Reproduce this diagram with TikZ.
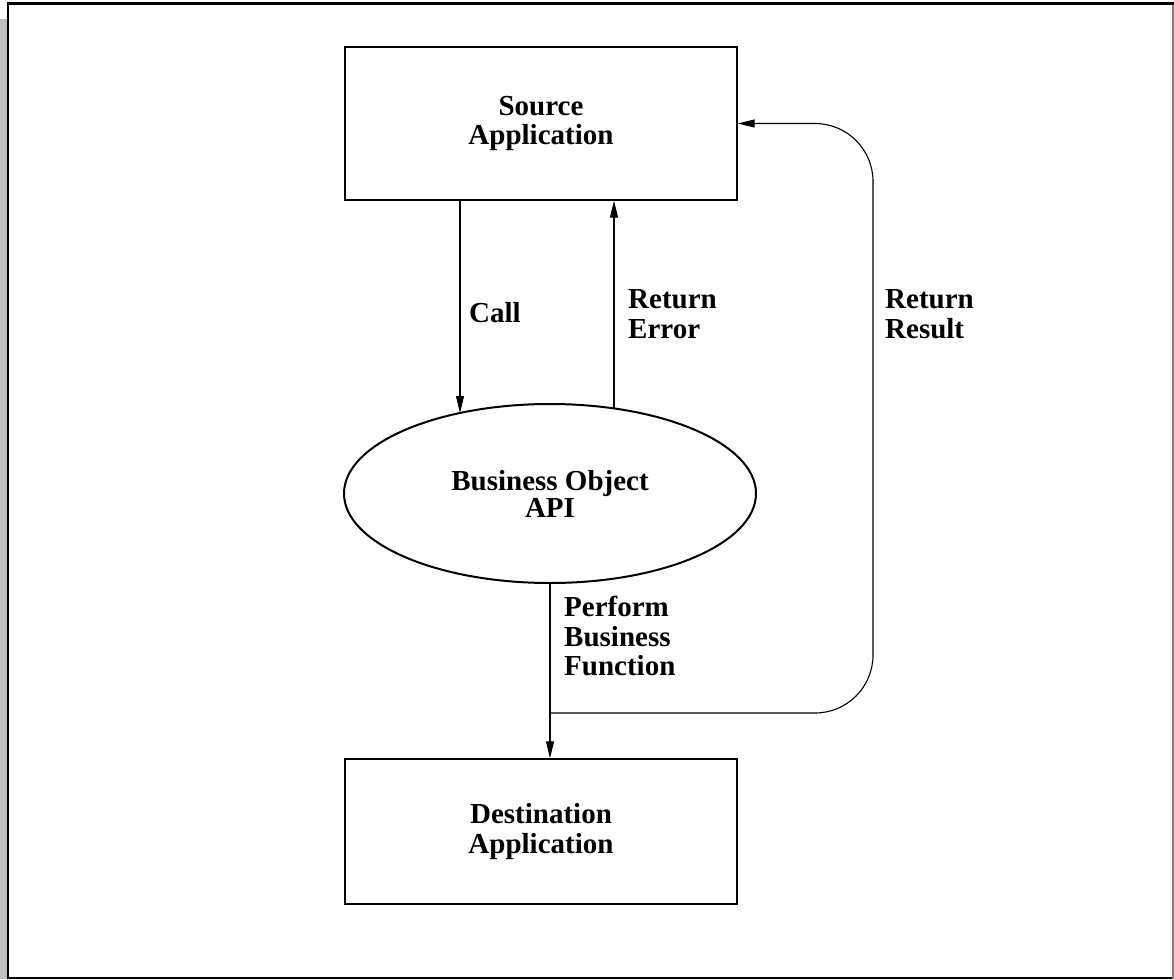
\documentclass[tikz,border=0pt]{standalone}
\usepackage{fontspec}
\setmainfont{Liberation Serif}
\usetikzlibrary{shapes.geometric,arrows.meta,calc}
\begin{document}
\begin{tikzpicture}[x=1pt,y=-1pt,
  box/.style={draw,line width=1.4pt,rectangle,minimum width=392pt,inner sep=0pt,align=center,
    font=\fontsize{29}{29.5}\selectfont\bfseries},
  oval/.style={draw,line width=2pt,ellipse,minimum width=412pt,minimum height=179pt,inner sep=0pt,
    align=center,font=\fontsize{29}{27}\selectfont\bfseries},
  flow/.style={line width=1.1pt,-{Triangle[length=17pt,width=8pt]}},
  lbl/.style={anchor=west,inner sep=0pt,align=left,font=\fontsize{29}{29.5}\selectfont\bfseries}]
  \useasboundingbox (0,0) rectangle (1174,979);
  % page frame
  \fill[black!25] (0,19) rectangle (7,979);
  \draw[line width=2.7pt] (7,3.7) -- (1174,3.7);
  \draw[line width=2.5pt] (8.2,3) -- (8.2,979);
  \draw[line width=2pt] (8,977.5) -- (1172,977.5);
  \draw[line width=1.5pt,black!50] (1173,5) -- (1173,979);

  % nodes
  \node[box,minimum height=153pt] (src) at (541,123.5) {Source\\Application};
  \node[oval] (api) at (550,493.5) {\raisebox{-5pt}{Business Object}\\[0pt]\raisebox{-5pt}{API}};
  \node[box,minimum height=145pt] (dst) at (541,831.5) {Destination\\Application};

  % connectors
  \draw[flow] (src.south -| 460,0) -- ($(api.center)+(-90,-80.5)$);
  \draw[flow] ($(api.center)+(64,-85)$) -- (src.south -| 614,0);
  \draw[flow] (api.south) -- (api.south |- dst.north);
  \coordinate (junc) at (550,713);
  \draw[flow,rounded corners=58pt] (junc) -- (873,713) -- (873,123.5) -- (src.east);

  % labels
  \node[lbl] (lcall) at (469,313) {Call};
  \node[lbl] (lerr) at (628,314) {Return\\Error};
  \node[lbl] (lres) at (885,314) {Return\\Result};
  \node[lbl] (lperf) at (564,636) {Perform\\Business\\Function};
\end{tikzpicture}
\end{document}
